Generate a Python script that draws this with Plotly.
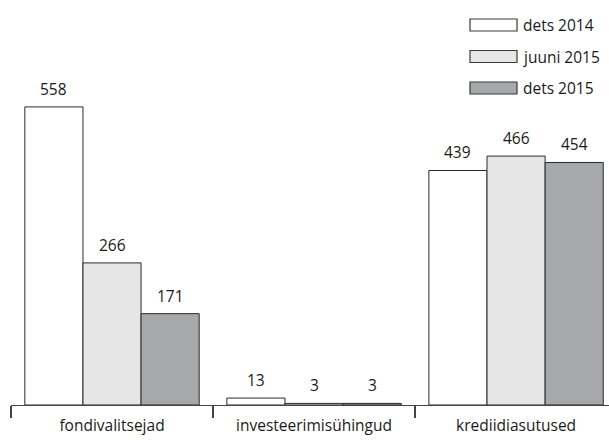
import plotly.graph_objects as go

categories = ["fondivalitsejad", "investeerimisühingud", "krediidiasutused"]
series_names = ["dets 2014", "juuni 2015", "dets 2015"]
values_dets2014 = [558, 13, 439]
values_juuni2015 = [266, 3, 466]
values_dets2015 = [171, 3, 454]
colors = ["#ffffff", "#e6e6e7", "#a7a8ab"]

FONT = "Open Sans, Arial, sans-serif"
FS = 15.5
TXT = "#1a1a1a"

W, H = 609, 440
ML, MR, MT, MB = 11, 0, 30, 35
PW, PH = W - ML - MR, H - MT - MB
XRANGE = [-0.5, 2.46]
BARGAP = 0.137
series_values = [values_dets2014, values_juuni2015, values_dets2015]

fig = go.Figure()
for name, vals, col in zip(series_names, series_values, colors):
    fig.add_trace(go.Bar(
        x=categories, y=vals, name=name,
        marker=dict(color=col, line=dict(color="#2b2b2b", width=1)),
        cliponaxis=False, showlegend=False, hoverinfo="skip",
    ))

# value labels above each bar (offset within the group from the bar layout)
cat_px = PW / (XRANGE[1] - XRANGE[0])
bar_px = cat_px * (1 - BARGAP) / len(series_names)
for j, vals in enumerate(series_values):
    for cat, v in zip(categories, vals):
        fig.add_annotation(x=cat, y=v, xref="x", yref="y", text=str(v),
                           showarrow=False, yanchor="bottom", xanchor="center",
                           xshift=(j - (len(series_names) - 1) / 2) * bar_px, yshift=5,
                           font=dict(family=FONT, size=FS, color=TXT))

# legend drawn manually (wide rectangular swatches like the reference)
def px_x(x):
    return (x - ML) / PW

def px_y(y):
    return 1 - (y - MT) / PH

for i, (name, col) in enumerate(zip(series_names, colors)):
    yc = 25 + i * 31.5
    fig.add_shape(type="rect", xref="paper", yref="paper",
                  x0=px_x(470), x1=px_x(517),
                  y0=px_y(yc + 6), y1=px_y(yc - 6),
                  fillcolor=col, line=dict(color="#3a3a3a", width=1.2))
    fig.add_annotation(xref="paper", yref="paper", x=px_x(521), y=px_y(yc),
                       text=name, showarrow=False, xanchor="left", yanchor="middle",
                       font=dict(family=FONT, size=FS, color=TXT))

fig.update_layout(
    width=W, height=H,
    margin=dict(l=ML, r=MR, t=MT, b=MB, autoexpand=False),
    paper_bgcolor="white", plot_bgcolor="white",
    barmode="group", bargap=BARGAP, bargroupgap=0,
    font=dict(family=FONT, size=FS, color=TXT),
    hovermode=False,
    xaxis=dict(
        type="category", range=XRANGE, tickson="boundaries",
        ticks="outside", ticklen=12, tickcolor="#444", tickwidth=1.2,
        showline=True, linecolor="#444", linewidth=1.2,
        showgrid=False, automargin=False, ticklabelstandoff=6,
        tickfont=dict(family=FONT, size=FS, color=TXT),
    ),
    yaxis=dict(range=[0, 702], visible=False, showgrid=False),
)

fig.write_html("out.html", config={"displayModeBar": False, "staticPlot": True},
               post_script="document.body.style.margin='0';document.body.style.padding='0';")
